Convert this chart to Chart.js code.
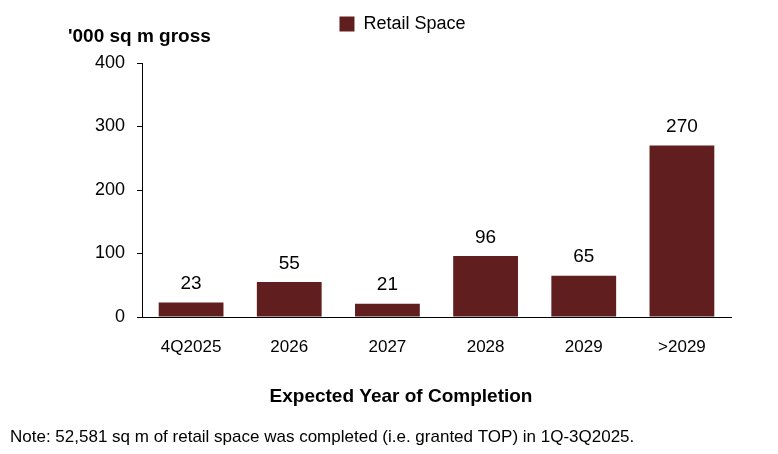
<!DOCTYPE html>
<html>
<head>
<meta charset="utf-8">
<script src="https://cdn.jsdelivr.net/npm/chart.js@4"></script>
<style>
  html, body { margin: 0; padding: 0; background: #fff; }
  #wrap { width: 778px; height: 454px; position: relative; }
</style>
</head>
<body>
<div id="wrap"><canvas id="chart-retail"></canvas></div>
<script>
// ------------- DATOS
const categories = ['4Q2025', '2026', '2027', '2028', '2029', '>2029'];
const retailSpace = [23, 55, 21, 96, 65, 270];
const yTicks = [0, 100, 200, 300, 400];

const FONT = '"Liberation Sans", Arial, sans-serif';
const BAR_COLOR = '#611e1e';

// ---------- espacio extra debajo de la leyenda y leyenda algo a la derecha
const legendSpace = {
  id: 'legendSpace',
  beforeLayout(chart) {
    const lg = chart.legend;
    if (lg && !lg._extraFit) {
      const origFit = lg.fit;
      lg.fit = function () {
        origFit.call(this);
        this.height += 20;
      };
      lg._extraFit = true;
    }
  },
  afterLayout(chart) {
    const lg = chart.legend;
    if (lg) {
      lg.left += 37;
      lg.right += 37;
    }
  }
};

// ---------- etiquetas encima de las barras + textos sueltos
const extraText = {
  id: 'extraText',
  afterDatasetsDraw(chart) {
    const ctx = chart.ctx;
    const meta = chart.getDatasetMeta(0);
    ctx.save();
    ctx.fillStyle = '#000';
    ctx.textAlign = 'center';
    ctx.textBaseline = 'bottom';
    ctx.font = '19px ' + FONT;
    meta.data.forEach(function (bar, i) {
      ctx.fillText(retailSpace[i], bar.x, bar.y - 9);
    });
    // titulo del eje X
    ctx.textBaseline = 'middle';
    ctx.font = 'bold 19px ' + FONT;
    ctx.fillText('Expected Year of Completion', 401, 397);
    // titulo del eje Y (horizontal, arriba a la izquierda)
    ctx.textAlign = 'left';
    ctx.fillText("'000 sq m gross", 68, 37);
    // nota
    ctx.font = '17px ' + FONT;
    ctx.fillText('Note: 52,581 sq m of retail space was completed (i.e. granted TOP) in 1Q-3Q2025.', 10, 437);
    ctx.restore();
  }
};

const ctx = document.getElementById('chart-retail').getContext('2d');
let myChartRetail = new Chart(ctx, {
  type: 'bar',
  data: {
    labels: categories,
    datasets: [{
      label: 'Retail Space',
      data: retailSpace,
      backgroundColor: BAR_COLOR,
      borderWidth: 0,
      categoryPercentage: 1,
      barPercentage: 0.66
    }]
  },
  options: {
    responsive: true,
    maintainAspectRatio: false,
    animation: false,
    layout: { padding: { top: 5, left: 0, right: 47, bottom: 0 } },
    plugins: {
      legend: {
        display: true,
        labels: {
          color: '#000',
          font: { family: FONT, size: 18 },
          boxWidth: 15,
          boxHeight: 15,
          padding: 10
        }
      },
      tooltip: { enabled: false }
    },
    scales: {
      y: {
        min: 0,
        max: 400,
        afterBuildTicks: function (scale) {
          scale.ticks = yTicks.map(function (v) { return { value: v }; });
        },
        afterFit: function (scale) { scale.width = 142; },
        ticks: {
          color: '#000',
          padding: 12,
          font: { family: FONT, size: 18 }
        },
        grid: {
          drawOnChartArea: false,
          drawTicks: true,
          tickLength: 5,
          color: '#000'
        },
        border: { display: true, color: '#000', width: 1 }
      },
      x: {
        afterFit: function (scale) { scale.height = 137; },
        ticks: {
          color: '#000',
          padding: 12,
          font: { family: FONT, size: 17 }
        },
        grid: { display: false },
        border: { display: true, color: '#000', width: 1 }
      }
    }
  },
  plugins: [legendSpace, extraText]
});
</script>
</body>
</html>
